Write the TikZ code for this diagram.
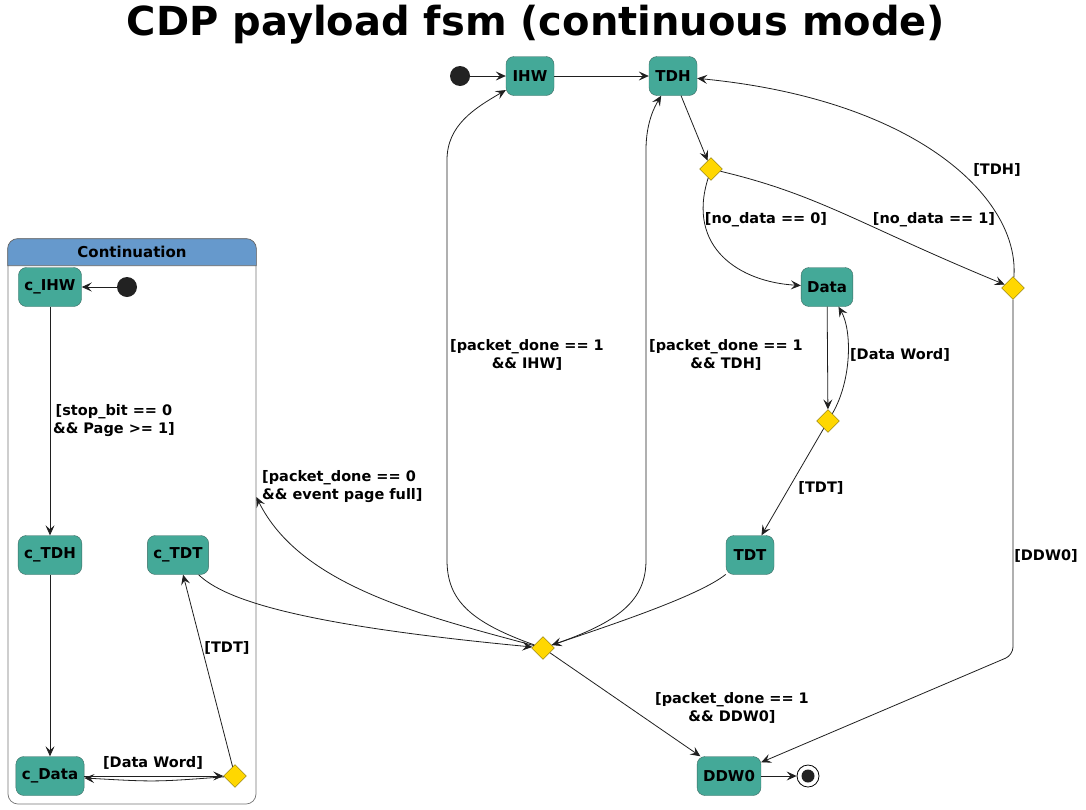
\documentclass[tikz,border=0pt]{standalone}
\usepackage{fontspec}
\setmainfont{DejaVu Sans}
\usetikzlibrary{shapes.geometric,arrows.meta}

\definecolor{stfill}{HTML}{44A998}
\definecolor{stline}{HTML}{3C6A62}
\definecolor{chfill}{HTML}{FFD700}
\definecolor{chline}{HTML}{7A6A10}
\definecolor{headfill}{HTML}{6699CC}
\definecolor{dotfill}{HTML}{222222}

\begin{document}
\begin{tikzpicture}[x=1pt,y=-1pt,
  stbox/.style={draw=stline,fill=stfill,rounded corners=8pt,minimum width=48pt,minimum height=39pt,inner xsep=6pt,font=\fontsize{15}{18}\selectfont\bfseries},
  choice/.style={diamond,draw=chline,fill=chfill,minimum width=23pt,minimum height=23pt,inner sep=0pt},
  startdot/.style={circle,fill=dotfill,minimum size=20pt,inner sep=0pt},
  lbl/.style={font=\fontsize{14.5}{18}\selectfont\bfseries,align=center,inner sep=1pt},
  flow/.style={draw=black!88,line width=0.8pt,-{Stealth[length=10pt,width=9pt,inset=4pt]}}]

  \useasboundingbox (0,0) rectangle (1086,809);

  %% Title
  \node[font=\fontsize{40}{48}\selectfont\bfseries] (TITLE) at (536,25) {CDP payload fsm (continuous mode)};

  %% Continuation box with its header
  \node[draw=black!55,line width=0.7pt,rounded corners=10pt,minimum width=248pt,minimum height=565pt] (CONT) at (132,521.5) {};
  \filldraw[fill=headfill,draw=black!60,line width=0.7pt] ([yshift=-27pt]CONT.north west) [rounded corners=10pt] -- (CONT.north west) -- (CONT.north east) [sharp corners] -- ([yshift=-27pt]CONT.north east) -- cycle;
  \node[font=\fontsize{15}{18}\selectfont\bfseries] (CONTNAME) at (132,252) {Continuation};
  \coordinate (CONTIN) at ([yshift=24.5pt]CONT.east);

  %% States
  \foreach \n/\t/\x/\y in {IHW/IHW/530/76, TDH/TDH/673/76, DATA/Data/827/287, TDT/TDT/750/555, DDW0/DDW0/729/776,
                           CIHW/c\_IHW/50/287, CTDH/c\_TDH/50/555, CTDT/c\_TDT/178/555, CDATA/c\_Data/50/776}
  {
    \node[stbox] (\n) at (\x,\y) {\t};
  }

  %% Choice points
  \foreach \n/\x/\y in {CHK/711/169, CHKR/1013/288, CHKD/828/421, JOIN/543/648, CCHK/235/776}
  {
    \node[choice] (\n) at (\x,\y) {};
  }

  %% Start and end
  \node[startdot] (START) at (460,76) {};
  \node[startdot] (CSTART) at (127,287) {};
  \node[circle,draw=black,fill=white,line width=0.8pt,minimum size=22pt,inner sep=0pt] (END) at (808,776) {};
  \fill[dotfill] (END) circle (6.5pt);

  %% Main flow
  \draw[flow] (START) -- (IHW);
  \draw[flow] (IHW) -- (TDH);
  \draw[flow] (TDH) -- (CHK);
  \draw[flow] (CHK) .. controls (686,248) and (740,282) .. (DATA);
  \draw[flow] (CHK) .. controls (820,195) and (860,225) .. (CHKR);
  \draw[flow] (CHKR) .. controls (1020,200) and (920,100) .. (TDH);
  \draw[flow,rounded corners=8pt] (CHKR) -- (1013,655) -- (DDW0);
  \draw[flow] (DATA) -- (CHKD);
  \draw[flow] (CHKD) .. controls (852,380) and (852,330) .. (DATA);
  \draw[flow] (CHKD) -- (TDT);
  \draw[flow] (TDT) .. controls (700,595) and (620,622) .. (JOIN);
  \draw[flow] (JOIN) .. controls (470,622) and (447,600) .. (447,560) -- (447,160) .. controls (447,125) and (475,108) .. (IHW);
  \draw[flow] (JOIN) .. controls (620,622) and (646,600) .. (646,560) -- (646,150) .. controls (646,122) and (655,106) .. (TDH);
  \draw[flow] (JOIN) .. controls (420,615) and (300,585) .. (CONTIN);
  \draw[flow] (CTDT) .. controls (225,600) and (300,625) .. (JOIN);
  \draw[flow] (JOIN) -- (DDW0);
  \draw[flow] (DDW0) -- (END);

  %% Inside Continuation
  \draw[flow] (CSTART) -- (CIHW);
  \draw[flow] (CIHW) -- (CTDH);
  \draw[flow] (CTDH) -- (CDATA);
  \draw[flow] (CDATA) -- (CCHK);
  \draw[flow] (CCHK) .. controls (155,782) .. (CDATA);
  \draw[flow] (CCHK) -- (CTDT);

  %% Guards
  \node[lbl] (L1) at (766,220) {[no\_data == 0]};
  \node[lbl] (L2) at (934,220) {[no\_data == 1]};
  \node[lbl] (L3) at (997,170) {[TDH]};
  \node[lbl] (L4) at (1046,556) {[DDW0]};
  \node[lbl] (L5) at (900,355) {[Data Word]};
  \node[lbl] (L6) at (821,488) {[TDT]};
  \node[lbl] (L7) at (527,355) {[packet\_done == 1\\\&\& IHW]};
  \node[lbl] (L8) at (726,355) {[packet\_done == 1\\\&\& TDH]};
  \node[lbl,align=left,anchor=west] (L9) at (261,487) {[packet\_done == 0\\\&\& event page full]};
  \node[lbl] (L10) at (732,708) {[packet\_done == 1\\\&\& DDW0]};
  \node[lbl] (L11) at (114,421) {[stop\_bit == 0\\\&\& Page >= 1]};
  \node[lbl] (L12) at (153,763) {[Data Word]};
  \node[lbl] (L13) at (227,648) {[TDT]};
\end{tikzpicture}
\end{document}
